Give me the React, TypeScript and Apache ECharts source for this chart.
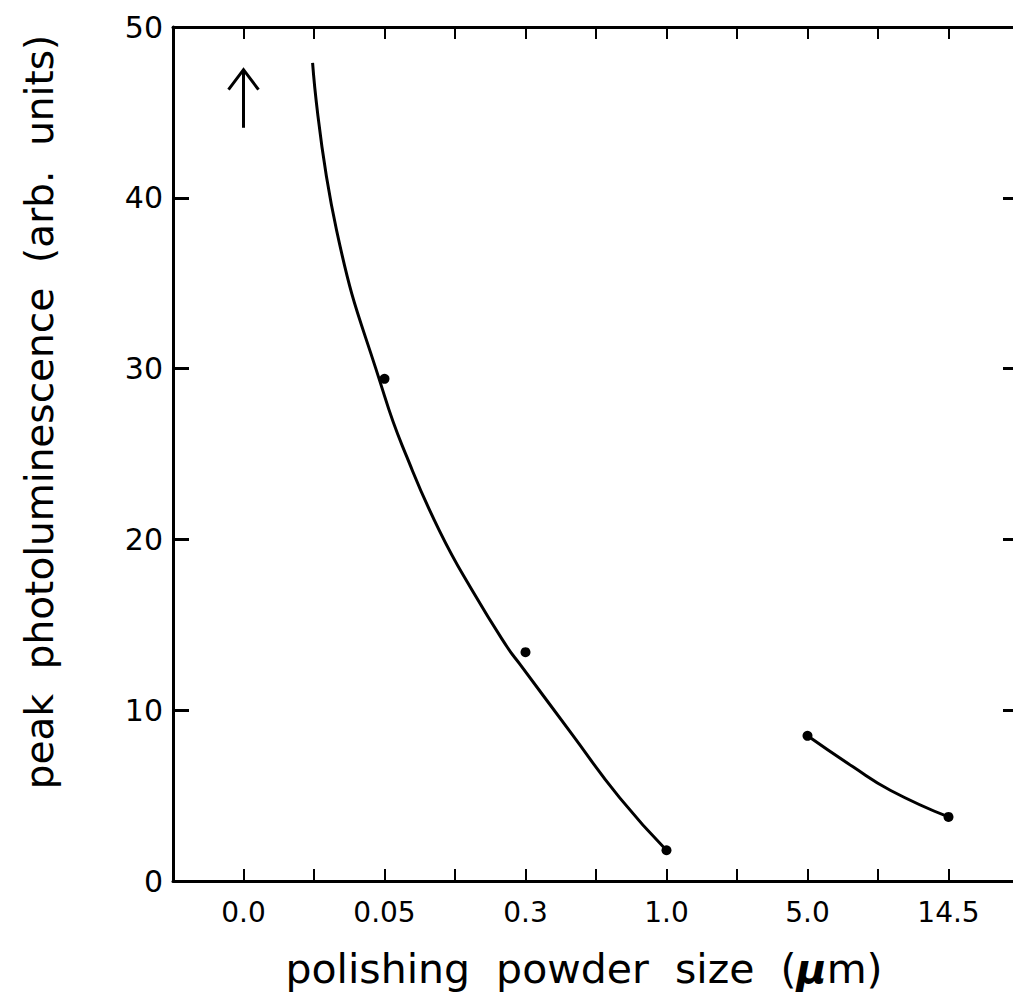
import React, { useEffect, useRef } from "react";
import * as echarts from "echarts";

const sizeLabels = ["0.0", "0.05", "0.3", "1.0", "5.0", "14.5"];
const pointX = [1, 2, 3, 4, 5];
const pointY = [29.4, 13.4, 1.8, 8.5, 3.75];
const fitAX = [0.49, 0.66, 1.0, 1.16, 1.39, 1.63, 1.87, 1.96, 2.32, 2.67, 3.0];
const fitAY = [47.9, 38.1, 28.4, 24.8, 20.5, 16.9, 13.7, 12.7, 8.7, 4.85, 1.8];
const fitBX = [4.0, 4.32, 4.59, 5.0];
const fitBY = [8.5, 6.7, 5.3, 3.75];
const yTicks = [0, 10, 20, 30, 40, 50];
// off-scale arrow at category 0.0
const arrowX = 0;
const arrowTop = 47.5;
const arrowBottom = 44.1;

const FONT = "DejaVu Sans";

export default function App() {
  const ref = useRef<HTMLDivElement>(null);
  useEffect(() => {
    if (!ref.current) return;
    const chart = echarts.init(ref.current, null, { renderer: "svg" });
    const axisLine = { show: true, onZero: false, lineStyle: { color: "#000", width: 3 } };
    const xBase = {
      type: "value",
      min: -0.5,
      max: 5.5,
      interval: 0.5,
      splitLine: { show: false },
      axisLine,
      axisTick: { show: true, inside: true, length: 12, lineStyle: { color: "#000", width: 2 } },
    };
    const yBase = {
      type: "value",
      min: 0,
      max: 50,
      interval: 10,
      splitLine: { show: false },
      axisLine,
      axisTick: { show: true, inside: true, length: 16, lineStyle: { color: "#000", width: 3 } },
    };
    chart.setOption({
      animation: false,
      backgroundColor: "#fff",
      grid: {
        left: 173,
        top: 27,
        width: 846,
        height: 854,
        containLabel: false,
        outerBoundsMode: "none",
      },
      xAxis: [
        {
          ...xBase,
          position: "bottom",
          axisLabel: {
            show: true,
            margin: 17,
            color: "#000",
            fontFamily: FONT,
            fontSize: 28,
            formatter: (v: number) => (Number.isInteger(v) && v >= 0 && v < sizeLabels.length ? sizeLabels[v] : ""),
          },
        },
        { ...xBase, position: "top", axisLabel: { show: false } },
      ],
      yAxis: [
        {
          ...yBase,
          position: "left",
          axisLabel: {
            show: true,
            margin: 10,
            color: "#000",
            fontFamily: FONT,
            fontSize: 30,
            formatter: (v: number) => (yTicks.includes(v) ? String(v) : ""),
          },
        },
        { ...yBase, position: "right", axisLabel: { show: false } },
      ],
      series: [
        {
          type: "line",
          data: fitAX.map((x, i) => [x, fitAY[i]]),
          smooth: 0.5,
          showSymbol: false,
          lineStyle: { color: "#000", width: 3 },
        },
        {
          type: "line",
          data: fitBX.map((x, i) => [x, fitBY[i]]),
          smooth: 0.5,
          showSymbol: false,
          lineStyle: { color: "#000", width: 3 },
        },
        {
          type: "scatter",
          data: pointX.map((x, i) => [x, pointY[i]]),
          symbol: "circle",
          symbolSize: 10,
          itemStyle: { color: "#000", opacity: 1 },
        },
      ],
    });
    const tip = chart.convertToPixel({ gridIndex: 0 }, [arrowX, arrowTop]) as number[];
    const base = chart.convertToPixel({ gridIndex: 0 }, [arrowX, arrowBottom]) as number[];
    chart.setOption({
      graphic: [
        {
          type: "line",
          shape: { x1: tip[0], y1: tip[1], x2: base[0], y2: base[1] },
          style: { stroke: "#000", lineWidth: 3 },
        },
        {
          type: "polyline",
          shape: { points: [[tip[0] - 15, tip[1] + 20], [tip[0], tip[1]], [tip[0] + 15, tip[1] + 20]] },
          style: { stroke: "#000", lineWidth: 3, fill: null },
        },
        {
          type: "text",
          x: 584,
          y: 969,
          style: {
            text: "polishing  powder  size  ({mu|μ}m)",
            fontFamily: FONT,
            fontSize: 41,
            fill: "#000",
            align: "center",
            verticalAlign: "middle",
            rich: {
              mu: { fontFamily: FONT, fontSize: 41, fontStyle: "italic", fontWeight: "bold", fill: "#000" },
            },
          },
        },
        {
          type: "text",
          x: 39,
          y: 412,
          rotation: Math.PI / 2,
          style: {
            text: "peak  photoluminescence  (arb.  units)",
            fontFamily: FONT,
            fontSize: 39,
            fill: "#000",
            align: "center",
            verticalAlign: "middle",
          },
        },
      ],
    });
    return () => chart.dispose();
  }, []);
  return (
    <div
      ref={ref}
      style={{ position: "absolute", left: 0, top: 0, width: 1013, height: 994 }}
    />
  );
}
